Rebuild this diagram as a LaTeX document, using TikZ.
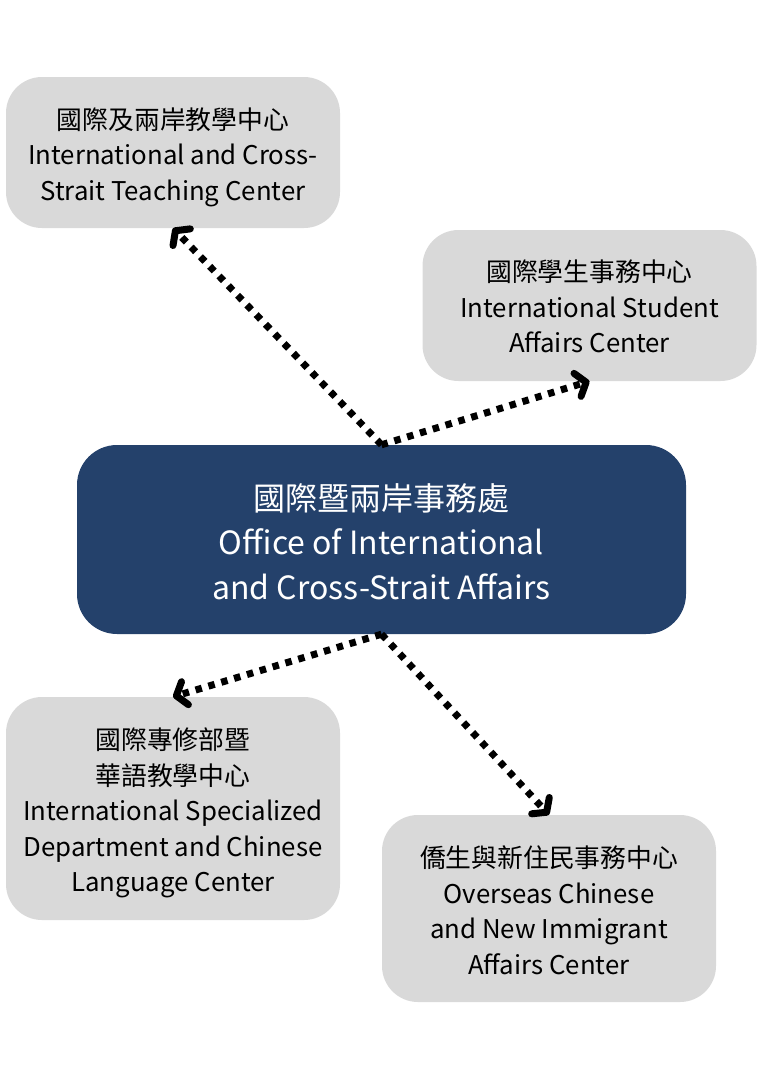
\documentclass[tikz,border=0pt]{standalone}
\usepackage{fontspec}
\setmainfont{Noto Sans CJK TC}
\usetikzlibrary{arrows.meta}
\definecolor{boxgrey}{HTML}{D9D9D9}
\definecolor{officeblue}{HTML}{24416B}
\tikzset{
	unitbox/.style={rectangle, rounded corners=36pt, fill=boxgrey, minimum width=334pt, inner sep=0pt},
	unittext/.style={align=center, inner sep=0pt, font=\fontsize{25.8}{35.5}\selectfont},
	officebox/.style={rectangle, rounded corners=40pt, fill=officeblue, minimum width=609pt, minimum height=189pt, inner sep=0pt},
	officetext/.style={align=center, inner sep=0pt, text=white, font=\fontsize{32}{44.5}\selectfont},
	link/.style={line width=7pt, dash pattern=on 6.5pt off 6.9pt, -{Straight Barb[length=9pt,width=24pt,round]}}
}
\begin{document}
\begin{tikzpicture}[x=1pt,y=-1pt]
		%%%%% START %%%%%
		\useasboundingbox (0, 0) rectangle (763, 1080);
		
		% boxes
		\node[officebox] (office) at (381.5, 539.5) {};
		\node[unitbox, minimum height=151pt] (teach) at (173, 152.5) {};
		\node[unitbox, minimum height=151pt] (student) at (589.5, 305.5) {};
		\node[unitbox, minimum height=223pt] (chinese) at (173, 808.5) {};
		\node[unitbox, minimum height=187pt] (overseas) at (549, 908.5) {};
		
		% texts
		\node[officetext] (officelabel) at ([yshift=-2pt]office.center) {國際暨兩岸事務處\\Office of International\\and Cross-Strait Affairs};
		\node[unittext] (teachlabel) at ([yshift=-4.5pt]teach.center) {國際及兩岸教學中心\\International and Cross-\\Strait Teaching Center};
		\node[unittext] (studentlabel) at ([yshift=-1pt]student.center) {國際學生事務中心\\International Student\\Affairs Center};
		\node[unittext] (chineselabel) at ([yshift=-4.5pt]chinese.center) {國際專修部暨\\華語教學中心\\International Specialized\\Department and Chinese\\Language Center};
		\node[unittext] (overseaslabel) at ([yshift=-1.5pt]overseas.center) {僑生與新住民事務中心\\Overseas Chinese\\and New Immigrant\\Affairs Center};
		
		% links
		\draw[link] (office.north) -- (teach.south);
		\draw[link] (office.north) -- (student.south);
		\draw[link] (office.south) -- (chinese.north);
		\draw[link] (office.south) -- (overseas.north);
		%%%%% END %%%%%
	\end{tikzpicture}
\end{document}
